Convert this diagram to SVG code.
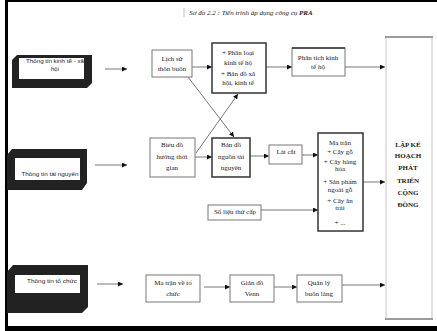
<svg xmlns="http://www.w3.org/2000/svg" width="437" height="331" viewBox="0 0 437 331">
<defs>
<marker id="ah" viewBox="0 0 6 6" refX="6" refY="3" markerWidth="5" markerHeight="5" orient="auto" markerUnits="userSpaceOnUse">
<path d="M0,0 L6,3 L0,6 z" fill="#111"/>
</marker>
<style>
.bx{fill:#fff;stroke:#777;stroke-width:1}
.bk{fill:#fff;stroke:#333;stroke-width:1.5}
.t{font-family:"Liberation Serif","Times New Roman",serif;font-size:7px;fill:#222;text-anchor:middle}
.s{font-family:"Liberation Sans",Arial,sans-serif;font-size:6px;fill:#222;text-anchor:middle}
.b{font-family:"Liberation Serif","Times New Roman",serif;font-size:7px;font-weight:bold;fill:#222;text-anchor:middle}
.bev{fill:#222}
.c{stroke:#666;stroke-width:0.9;fill:none;marker-end:url(#ah)}
</style>
</defs>
<rect width="437" height="331" fill="#fff"/>
<g id="frame">
<rect x="5" y="0" width="3" height="331" fill="#000"/>
<rect x="5" y="0" width="432" height="2" fill="#000"/>
<rect x="5" y="326" width="432" height="5" fill="#000"/>
</g>
<g id="title">
<line x1="184" y1="8" x2="184" y2="17" stroke="#999" stroke-width="0.6"/>
<text x="251" y="15" font-family="Liberation Serif, serif" font-size="7" font-style="italic" fill="#222" text-anchor="middle">Sơ đồ 2.2 : Tiến trình áp dụng công cụ <tspan font-weight="bold">PRA</tspan></text>
</g>
<g id="connectors">
<line class="c" x1="105" y1="69" x2="127" y2="69"/>
<line class="c" x1="95" y1="165" x2="127" y2="165"/>
<line class="c" x1="97" y1="284" x2="123" y2="284"/>
<line class="c" x1="192" y1="67" x2="212" y2="67"/>
<line class="c" x1="266" y1="67" x2="292" y2="67"/>
<line class="c" x1="345" y1="67" x2="385" y2="67"/>
<line class="c" x1="188" y1="77" x2="234" y2="137"/>
<line class="c" x1="196" y1="153" x2="238" y2="94"/>
<line class="c" x1="195" y1="157" x2="212" y2="157"/>
<line class="c" x1="250" y1="156" x2="269" y2="156"/>
<line class="c" x1="302" y1="155" x2="318" y2="155"/>
<line class="c" x1="261" y1="210" x2="318" y2="210"/>
<line class="c" x1="363" y1="182" x2="385" y2="182"/>
<line class="c" x1="204" y1="287" x2="230" y2="287"/>
<line class="c" x1="274" y1="287" x2="297" y2="287"/>
<line class="c" x1="342" y1="285" x2="385" y2="285"/>
</g>
<g id="n-ktxh">
<polygon class="bev" points="17,55 92,55 92,83 87,88 12,88 12,60"/>
<rect x="19" y="58" width="65" height="21" fill="#fff"/>
<text class="s" x="55" y="63" textLength="58" lengthAdjust="spacingAndGlyphs">Thông tin kinh tế - xã</text>
<text class="s" x="55" y="71">hội</text>
</g>
<g id="n-tn">
<polygon class="bev" points="12,149 87,149 87,183 82,190 7,190 7,155"/>
<rect x="15" y="158" width="65" height="22" fill="#fff"/>
<text class="s" x="50" y="176" textLength="57" lengthAdjust="spacingAndGlyphs">Thông tin tài nguyên</text>
</g>
<g id="n-tc">
<polygon class="bev" points="13,265 88,265 88,307 82,313 7,313 7,272"/>
<rect x="15" y="275" width="65" height="18" fill="#fff"/>
<text class="s" x="52" y="283" textLength="50" lengthAdjust="spacingAndGlyphs">Thông tin tổ chức</text>
</g>
<g id="n-lichsu">
<rect class="bx" x="152" y="50" width="40" height="27"/>
<text class="t" x="172" y="61">Lịch sử</text>
<text class="t" x="172" y="71">thôn buôn</text>
</g>
<g id="n-phanloai">
<rect class="bk" x="212" y="43" width="54" height="50"/>
<text class="t" x="238" y="55">+ Phân loại</text>
<text class="t" x="238" y="65">kinh tế hộ</text>
<text class="t" x="238" y="76">+ Bản đồ xã</text>
<text class="t" x="238" y="85">hội, kinh tế</text>
</g>
<g id="n-phantich">
<rect class="bx" x="292" y="48" width="53" height="28"/>
<line x1="292" y1="48" x2="345" y2="48" stroke="#333" stroke-width="1.5"/>
<text class="t" x="318" y="60">Phân tích kinh</text>
<text class="t" x="318" y="69">tế hộ</text>
</g>
<g id="n-bieudo">
<rect class="bx" x="150" y="138" width="45" height="39"/>
<text class="t" x="172" y="147">Biểu đồ</text>
<text class="t" x="172" y="159">hướng thời</text>
<text class="t" x="172" y="170">gian</text>
</g>
<g id="n-bando">
<rect class="bk" x="212" y="138" width="38" height="39"/>
<text class="t" x="231" y="147">Bản đồ</text>
<text class="t" x="231" y="159">nguồn tài</text>
<text class="t" x="231" y="170">nguyên</text>
</g>
<g id="n-latcat">
<rect class="bx" x="269" y="145" width="33" height="19"/>
<text class="t" x="286" y="154">Lát cắt</text>
</g>
<g id="n-solieu">
<rect class="bx" x="208" y="205" width="53" height="15"/>
<text class="t" x="235" y="214">Số liệu thứ cấp</text>
</g>
<g id="n-matran">
<rect class="bk" x="318" y="133" width="45" height="98"/>
<text class="t" x="340" y="145">Ma trận</text>
<text class="t" x="340" y="154">+ Cây gỗ</text>
<text class="t" x="340" y="164">+ Cây hàng</text>
<text class="t" x="340" y="171">hóa</text>
<text class="t" x="340" y="184">+ Sản phẩm</text>
<text class="t" x="340" y="192">ngoài gỗ</text>
<text class="t" x="340" y="203">+ Cây ăn</text>
<text class="t" x="340" y="210">trái</text>
<text class="t" x="340" y="225">+ ...</text>
</g>
<g id="n-lapkehoach">
<rect x="386" y="37" width="46" height="282" fill="#fff" stroke="#e2e2e2" stroke-width="2"/>
<line x1="385" y1="37" x2="433" y2="37" stroke="#555" stroke-width="1.2"/>
<line x1="385" y1="319" x2="433" y2="319" stroke="#555" stroke-width="1.2"/>
<text class="b" x="408" y="147">LẬP KẾ</text>
<text class="b" x="408" y="158">HOẠCH</text>
<text class="b" x="408" y="170">PHÁT</text>
<text class="b" x="408" y="183">TRIỂN</text>
<text class="b" x="408" y="195">CỘNG</text>
<text class="b" x="408" y="207">ĐỒNG</text>
</g>
<g id="n-matrantc">
<rect class="bx" x="146" y="275" width="54" height="27"/>
<text class="t" x="173" y="285">Ma trận về tổ</text>
<text class="t" x="173" y="296">chức</text>
</g>
<g id="n-venn">
<rect class="bx" x="230" y="275" width="44" height="27"/>
<text class="t" x="252" y="285">Giản đồ</text>
<text class="t" x="252" y="296">Venn</text>
</g>
<g id="n-quanly">
<rect class="bx" x="297" y="275" width="45" height="27"/>
<text class="t" x="319" y="285">Quản lý</text>
<text class="t" x="319" y="296">buôn làng</text>
</g>
</svg>
